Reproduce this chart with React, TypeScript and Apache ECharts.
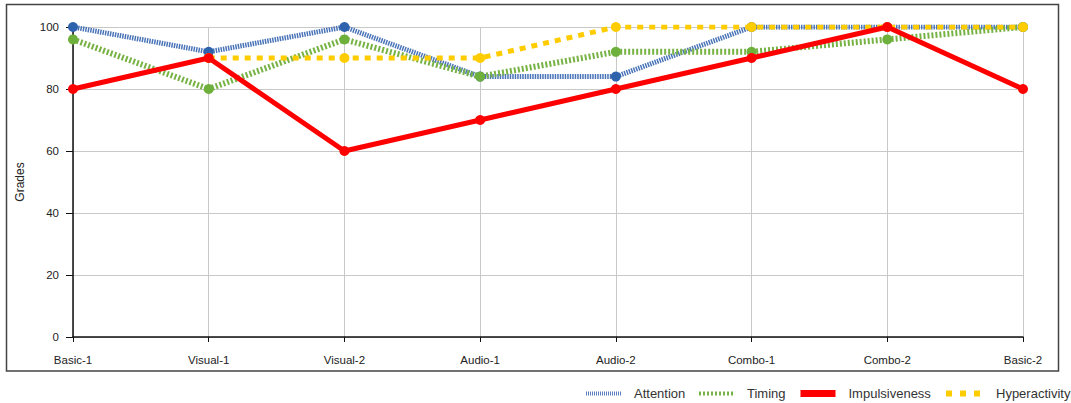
import React, { useEffect, useRef } from "react";
import * as echarts from "echarts";

const categories = ["Basic-1", "Visual-1", "Visual-2", "Audio-1", "Audio-2", "Combo-1", "Combo-2", "Basic-2"];
const attention = [100, 92, 100, 84, 84, 100, 100, 100];
const timing = [96, 80, 96, 84, 92, 92, 96, 100];
const impulsiveness = [80, 90, 60, 70, 80, 90, 100, 80];
const hyperactivity = [null, 90, 90, 90, 100, 100, 100, 100];
const seriesNames = ["Attention", "Timing", "Impulsiveness", "Hyperactivity"];
const yTicks = { min: 0, max: 100, interval: 20 };

export default function App() {
  const ref = useRef<HTMLDivElement>(null);
  useEffect(() => {
    if (!ref.current) return;
    const chart = echarts.init(ref.current, null, { renderer: "svg" });
    const font = "Liberation Sans, Arial, sans-serif";
    const mk = (name: string, data: any[], color: string, dotColor: string, type: any, width: number, z: number) => ({
      name,
      type: "line",
      data,
      z,
      symbol: "circle",
      symbolSize: 10,
      connectNulls: false,
      itemStyle: { color: dotColor },
      lineStyle: { color, width, type, cap: "butt" },
    });
    const legendLefts = [584, 697, 797, 943];
    const legendLine = [
      { color: "#5a7fc0", width: 4, type: [1, 1] },
      { color: "#77b244", width: 4, type: [2, 2] },
      { color: "#ff0000", width: 7, type: "solid" },
      { color: "#ffcc00", width: 6, type: [6, 8] },
    ];
    const legendGaps = [8, 8, 8, 10];
    chart.setOption({
      animation: false,
      backgroundColor: "#ffffff",
      grid: { left: 73, right: 48, top: 27, bottom: 66 },
      graphic: [
        {
          type: "rect",
          shape: { x: 6.5, y: 4.5, width: 1052, height: 366.5 },
          style: { fill: "none", stroke: "#444", lineWidth: 1.5 },
          silent: true,
        },
      ],
      legend: seriesNames.map((n, i) => ({
        top: 387,
        left: legendLefts[i],
        padding: 0,
        itemWidth: 35,
        itemHeight: 8,
        itemStyle: { opacity: 0 },
        lineStyle: { ...legendLine[i], cap: "butt" },
        textStyle: { fontFamily: font, fontSize: 13, color: "#333", padding: [0, 0, 0, legendGaps[i]] },
        data: [n],
      })),
      xAxis: {
        type: "category",
        data: categories,
        boundaryGap: false,
        axisLine: { lineStyle: { color: "#111", width: 1.5 } },
        axisTick: { show: true, length: 5, alignWithLabel: true, lineStyle: { color: "#111" } },
        axisLabel: { fontFamily: font, fontSize: 11.5, color: "#222", margin: 17 },
        splitLine: { show: true, lineStyle: { color: "#c8c8c8", width: 1 } },
      },
      yAxis: {
        type: "value",
        min: yTicks.min,
        max: yTicks.max,
        interval: yTicks.interval,
        name: "Grades",
        nameLocation: "middle",
        nameGap: 47,
        nameRotate: 90,
        nameTextStyle: { fontFamily: font, fontSize: 12, color: "#222" },
        axisLine: { show: true, lineStyle: { color: "#111", width: 1.5 } },
        axisTick: { show: true, length: 7, lineStyle: { color: "#111" } },
        axisLabel: { fontFamily: font, fontSize: 11.5, color: "#222", margin: 14 },
        splitLine: { show: true, lineStyle: { color: "#c8c8c8", width: 1 } },
      },
      series: [
        mk("Attention", attention, "#4a74b8", "#2e62ad", [1.5, 1], 5, 2),
        mk("Timing", timing, "#77b244", "#6eb03c", [2, 2], 6, 3),
        mk("Impulsiveness", impulsiveness, "#ff0000", "#ff0000", "solid", 5, 5),
        mk("Hyperactivity", hyperactivity, "#ffcc00", "#ffcc00", [6, 6], 5, 4),
      ],
    });
    return () => chart.dispose();
  }, []);
  return <div ref={ref} style={{ position: "fixed", left: 0, top: 0, width: 1071, height: 403 }} />;
}
